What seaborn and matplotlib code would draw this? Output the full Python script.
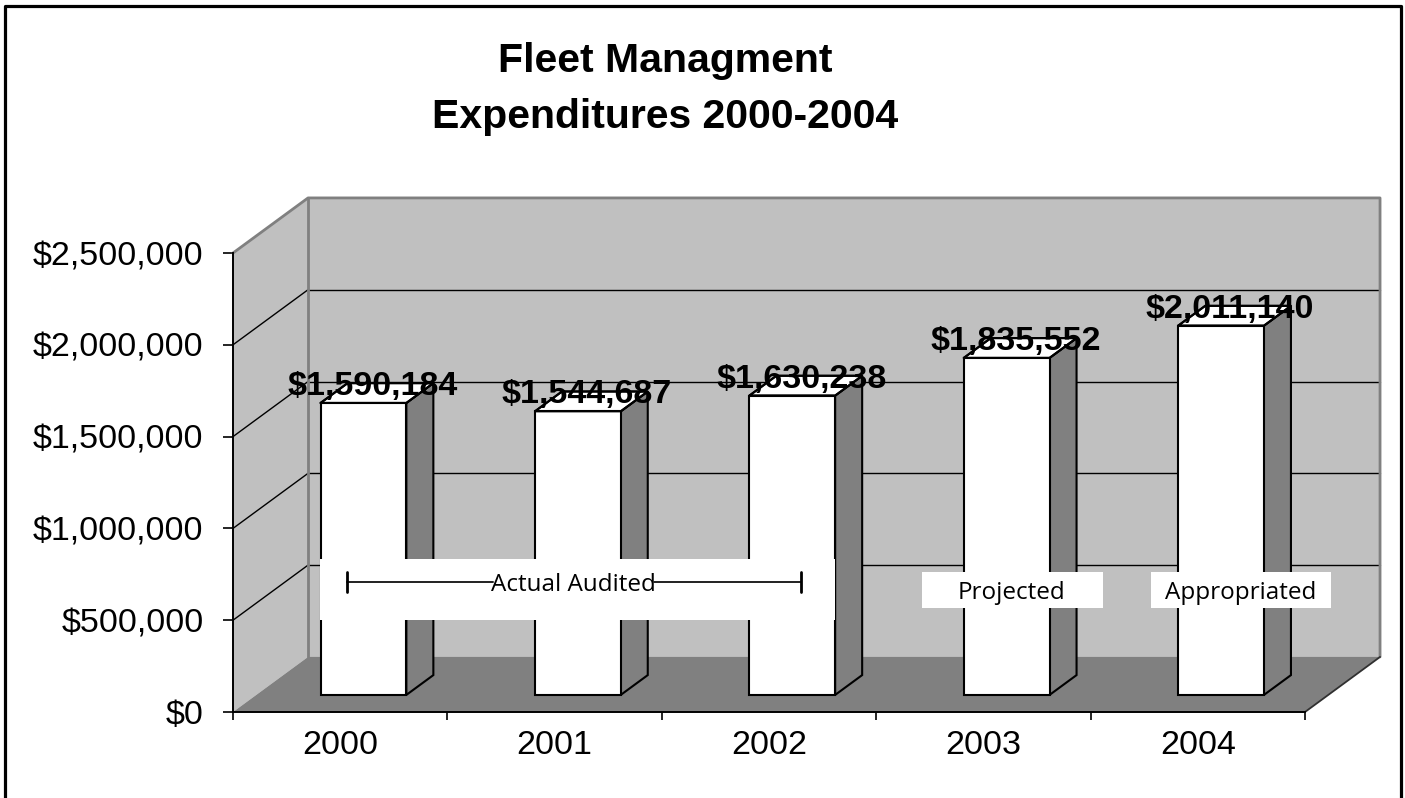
import numpy as np
import pandas as pd
import matplotlib
matplotlib.use("Agg")
import matplotlib.pyplot as plt
import seaborn as sns
from matplotlib.patches import Polygon, Rectangle
from matplotlib.lines import Line2D

# ---------------- data ----------------
years = ["2000", "2001", "2002", "2003", "2004"]
expenditures = [1590184, 1544687, 1630238, 1835552, 2011140]
y_ticks = [0, 500000, 1000000, 1500000, 2000000, 2500000]
y_tick_labels = ["$0", "$500,000", "$1,000,000", "$1,500,000", "$2,000,000", "$2,500,000"]
title_lines = ["Fleet Managment", "Expenditures 2000-2004"]
period_labels = ["Actual Audited", "Projected", "Appropriated"]

# ---------------- style ----------------
sns.set_theme(style="white")
plt.rcParams['font.family'] = ['Liberation Sans', 'DejaVu Sans']
plt.rcParams['text.color'] = 'black'

W, H = 1405, 798
fig = plt.figure(figsize=(W / 100, H / 100), dpi=100)
fig.patch.set_facecolor("white")
ax = fig.add_axes([233 / W, (H - 712) / H, 1072 / W, 459 / H])
ax.set_facecolor("none")

WALL = "#C0C0C0"
FLOOR = "#808080"
SIDE = "#808080"
DX, DY = 0.35, 300000          # full depth offset in data units
F_FRONT, F_BACK = 0.31, 0.67   # bar depth fractions
YMAX = 2500000
n = len(years)
x0w, x1w = -0.5, n - 0.5

# ---------------- walls / floor ----------------
ax.add_patch(Polygon([(x0w, 0), (x0w, YMAX), (x0w + DX, YMAX + DY), (x0w + DX, DY)],
                     closed=True, fc=WALL, ec="none", zorder=0.2, clip_on=False))
ax.add_patch(Rectangle((x0w + DX, DY), n, YMAX, fc=WALL, ec="none", zorder=0.2, clip_on=False))
ax.add_patch(Polygon([(x0w, 0), (x1w, 0), (x1w + DX, DY), (x0w + DX, DY)],
                     closed=True, fc=FLOOR, ec="none", zorder=0.4, clip_on=False))

for v in y_ticks[1:-1]:
    ax.add_line(Line2D([x0w + DX, x1w + DX], [v + DY, v + DY], color="black", lw=1.0, zorder=0.6, clip_on=False))
    ax.add_line(Line2D([x0w, x0w + DX], [v, v + DY], color="black", lw=1.0, zorder=0.6, clip_on=False))

# wall outlines
ax.add_line(Line2D([x0w, x0w + DX, x1w + DX, x1w + DX], [YMAX, YMAX + DY, YMAX + DY, DY],
                   color="#808080", lw=2.0, zorder=0.7, clip_on=False))
ax.add_line(Line2D([x0w + DX, x0w + DX], [DY, YMAX + DY], color="#808080", lw=2.0, zorder=0.7, clip_on=False))
ax.add_line(Line2D([x1w, x1w + DX], [0, DY], color="#303030", lw=1.3, zorder=0.7, clip_on=False))

# ---------------- bars ----------------
df = pd.DataFrame({"Year": years, "Expenditure": expenditures})
sns.barplot(data=df, x="Year", y="Expenditure", color="white", saturation=1, width=0.4,
            edgecolor="black", linewidth=1.5, ax=ax, zorder=3)

fx, fy = F_FRONT * DX, F_FRONT * DY
bx, by = F_BACK * DX, F_BACK * DY
top_edges = []
for p in ax.patches[:]:
    if not isinstance(p, Rectangle) or p.get_zorder() != 3:
        continue
    x0 = p.get_x(); w = p.get_width(); h = p.get_height()
    p.set_x(x0 + fx); p.set_y(fy)
    p.set_clip_on(False)
    side = [(x0 + w + fx, fy), (x0 + w + bx, by), (x0 + w + bx, h + by), (x0 + w + fx, h + fy)]
    ax.add_patch(Polygon(side, closed=True, fc=SIDE, ec="black", lw=1.5, zorder=2.9, clip_on=False))
    top = [(x0 + fx, h + fy), (x0 + w + fx, h + fy), (x0 + w + bx, h + by), (x0 + bx, h + by)]
    ax.add_patch(Polygon(top, closed=True, fc="white", ec="black", lw=1.5, zorder=2.95, clip_on=False))
    top_edges.append(top)

# edges of the bar tops drawn over the value labels
for top in top_edges:
    xs = [pt[0] for pt in top] + [top[0][0]]
    ys = [pt[1] for pt in top] + [top[0][1]]
    ax.add_line(Line2D(xs, ys, color="black", lw=1.5, zorder=6, clip_on=False))

# value labels
for i, v in enumerate(expenditures):
    ax.text(i + 0.15, v + by, f"${v:,}", ha="center", va="center_baseline",
            fontsize=24.5, fontweight="bold", color="black", zorder=5, clip_on=False)

# ---------------- period annotations ----------------
ann_font = ["Open Sans", "DejaVu Sans"]
yl = 706000
ax.add_patch(Rectangle((-0.094, 501000), 2.402, 332000, fc="white", ec="none", zorder=4, clip_on=False))
ax.text(1.088, yl, period_labels[0], ha="center", va="center_baseline", fontsize=17.5,
        family=ann_font, zorder=5, color="black")
ax.add_line(Line2D([0.032, 0.715], [yl, yl], color="#202020", lw=1.4, zorder=5))
ax.add_line(Line2D([1.462, 2.149], [yl, yl], color="#202020", lw=1.4, zorder=5))
for xm in (0.032, 2.149):
    ax.add_line(Line2D([xm, xm], [652000, 760000], color="black", lw=2.0, zorder=5))

ax.add_patch(Rectangle((2.714, 566000), 0.844, 197000, fc="white", ec="none", zorder=4, clip_on=False))
ax.text(3.133, 664000, period_labels[1], ha="center", va="center_baseline", fontsize=17.5,
        family=ann_font, zorder=5, color="black")
ax.add_patch(Rectangle((3.782, 566000), 0.839, 197000, fc="white", ec="none", zorder=4, clip_on=False))
ax.text(4.201, 664000, period_labels[2], ha="center", va="center_baseline", fontsize=17.5,
        family=ann_font, zorder=5, color="black")

# ---------------- axes ----------------
ax.set_xlim(x0w, x1w)
ax.set_ylim(0, YMAX)
ax.set_xlabel("")
ax.set_ylabel("")
for s in ("top", "right"):
    ax.spines[s].set_visible(False)
for s in ("left", "bottom"):
    ax.spines[s].set_visible(True)
    ax.spines[s].set_color("black")
    ax.spines[s].set_linewidth(1.4)
    ax.spines[s].set_zorder(2.5)

ax.set_yticks(y_ticks, y_tick_labels)
ax.tick_params(axis="y", left=True, length=7.2, width=1.2, color="black", pad=14,
               labelsize=24.5, labelcolor="black", direction="out")
ax.set_xticks(range(n), years)
ax.set_xticks([x0w + k for k in range(n + 1)], minor=True)
ax.tick_params(axis="x", which="major", bottom=False, length=0, pad=13, labelsize=24.5, labelcolor="black")
ax.tick_params(axis="x", which="minor", bottom=True, length=6, width=1.2, color="black", direction="out")
ax.grid(False)

# ---------------- title ----------------
fig.text(665 / W, 1 - 61 / H, title_lines[0], ha="center", va="center", fontsize=29.5,
         fontweight="bold", color="black")
fig.text(665 / W, 1 - 117 / H, title_lines[1], ha="center", va="center", fontsize=29.5,
         fontweight="bold", color="black")

# ---------------- chart frame ----------------
fig.add_artist(Line2D([4.5 / W, 4.5 / W, 1401 / W, 1401 / W], [0, 1 - 6 / H, 1 - 6 / H, 0],
                      transform=fig.transFigure, color="black", lw=2.3))

fig.savefig("out.png", dpi=100)
